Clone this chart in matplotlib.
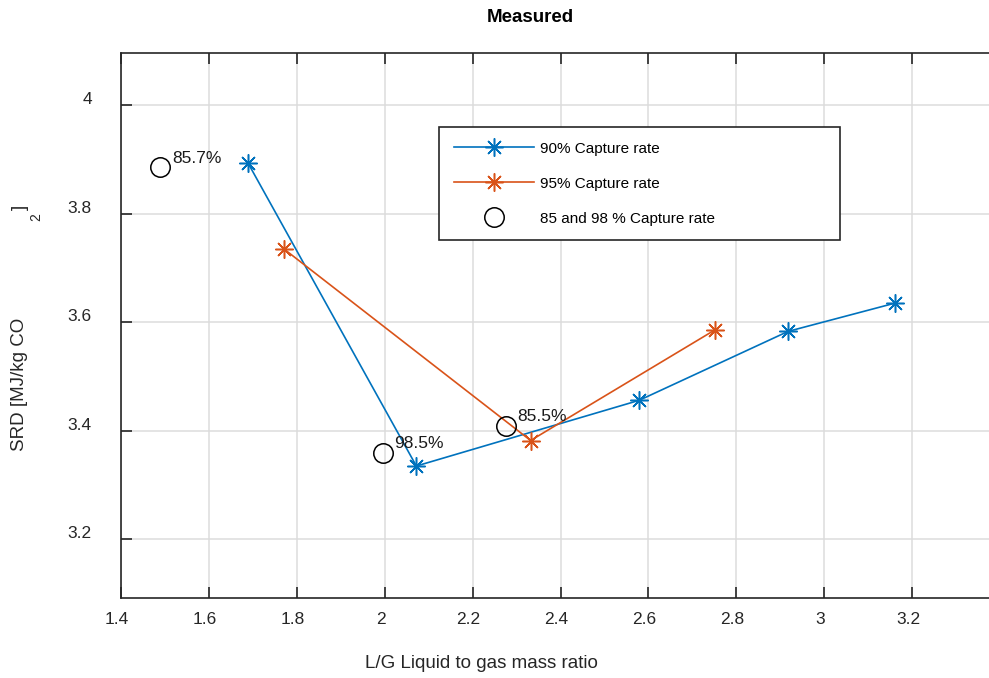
import matplotlib
matplotlib.use("Agg")
import matplotlib.pyplot as plt
import matplotlib.transforms as mtransforms

plt.rcParams['font.family'] = ['Liberation Sans', 'DejaVu Sans']

# Data
lg_90 = [1.689, 2.072, 2.579, 2.918, 3.161]
srd_90 = [3.893, 3.335, 3.456, 3.583, 3.635]
lg_95 = [1.772, 2.332, 2.752]
srd_95 = [3.734, 3.382, 3.586]
lg_other = [1.489, 1.995, 2.275]
srd_other = [3.885, 3.359, 3.409]
other_labels = ["85.7%", "98.5%", "85.5%"]
xticks = [1.4, 1.6, 1.8, 2.0, 2.2, 2.4, 2.6, 2.8, 3.0, 3.2]
xtick_labels = ["1.4", "1.6", "1.8", "2", "2.2", "2.4", "2.6", "2.8", "3", "3.2"]
yticks = [3.2, 3.4, 3.6, 3.8, 4.0]
ytick_labels = ["3.2", "3.4", "3.6", "3.8", "4"]

W, H = 989, 678
fig = plt.figure(figsize=(W / 100, H / 100), dpi=100)
ax = fig.add_axes([121 / W, 1 - 597.7 / H, (1000 - 121) / W, (597.7 - 52.7) / H])

blue = '#0072BD'
orange = '#D95319'
ast = (8, 2, 0)

ax.plot(lg_90, srd_90, color=blue, lw=1.2, marker=ast, ms=13, mew=1.1,
        label='90% Capture rate')
ax.plot(lg_95, srd_95, color=orange, lw=1.2, marker=ast, ms=13, mew=1.1,
        label='95% Capture rate')
ax.plot(lg_other, srd_other, ls='none', marker='o', ms=14, mfc='none',
        mec='black', mew=1.1, label='85 and 98 % Capture rate')

for x, y, t in zip(lg_other, srd_other, other_labels):
    ax.annotate(t, (x, y), xytext=(12, 9), textcoords='offset pixels',
                ha='left', va='center', fontsize=12.5, color='#1a1a1a')

ax.set_xlim(1.4, 3.4)
ax.set_ylim(3.0925, 4.0962)
ax.set_xticks(xticks)
ax.set_xticklabels(xtick_labels)
ax.set_yticks(yticks)
ax.set_yticklabels(ytick_labels)

ax.grid(True, color='#dcdcdc', lw=1.1)
ax.set_axisbelow(True)
for s in ['left', 'bottom', 'top']:
    ax.spines[s].set_color('#262626')
    ax.spines[s].set_linewidth(1.2)
ax.spines['right'].set_visible(False)

ax.tick_params(axis='x', direction='in', length=8, width=1.2, color='#262626',
               top=True, labelsize=12.5, labelcolor='#262626', pad=10)
ax.tick_params(axis='y', direction='in', length=8, width=1.2, color='#262626',
               labelsize=12.5, labelcolor='#262626', pad=21)

# MATLAB-like label offsets
off_x = mtransforms.ScaledTranslation(-4 / 100, 0, fig.dpi_scale_trans)
for lab in ax.get_xticklabels():
    lab.set_transform(lab.get_transform() + off_x)
off_y = mtransforms.ScaledTranslation(0, 7 / 100, fig.dpi_scale_trans)
for lab in ax.get_yticklabels():
    lab.set_transform(lab.get_transform() + off_y)

leg = ax.legend(loc='upper left',
                bbox_to_anchor=(439 / W, 1 - 127 / H, 401 / W, 0.0),
                bbox_transform=fig.transFigure, mode='expand',
                fontsize=11, handlelength=5.3, handletextpad=0.35,
                labelspacing=1.38, borderpad=0.95, borderaxespad=0,
                fancybox=False, framealpha=1, edgecolor='#262626')
leg.get_frame().set_linewidth(1.2)

fig.text(530 / W, 1 - 18 / H, 'Measured', ha='center', va='center',
         fontsize=13.5, fontweight='bold', color='black')
fig.text(481 / W, 1 - 663 / H, 'L/G Liquid to gas mass ratio', ha='center',
         va='center', fontsize=13.5, color='#262626')
fig.text(20 / W, 1 - 384 / H, 'SRD [MJ/kg CO', ha='center', va='center',
         rotation=90, fontsize=13.5, color='#262626')
fig.text(36 / W, 1 - 217 / H, '2', ha='center', va='center',
         rotation=90, fontsize=10, color='#262626')
fig.text(20 / W, 1 - 207 / H, ']', ha='center', va='center',
         rotation=90, fontsize=13.5, color='#262626')

fig.savefig('out.png', dpi=100)
